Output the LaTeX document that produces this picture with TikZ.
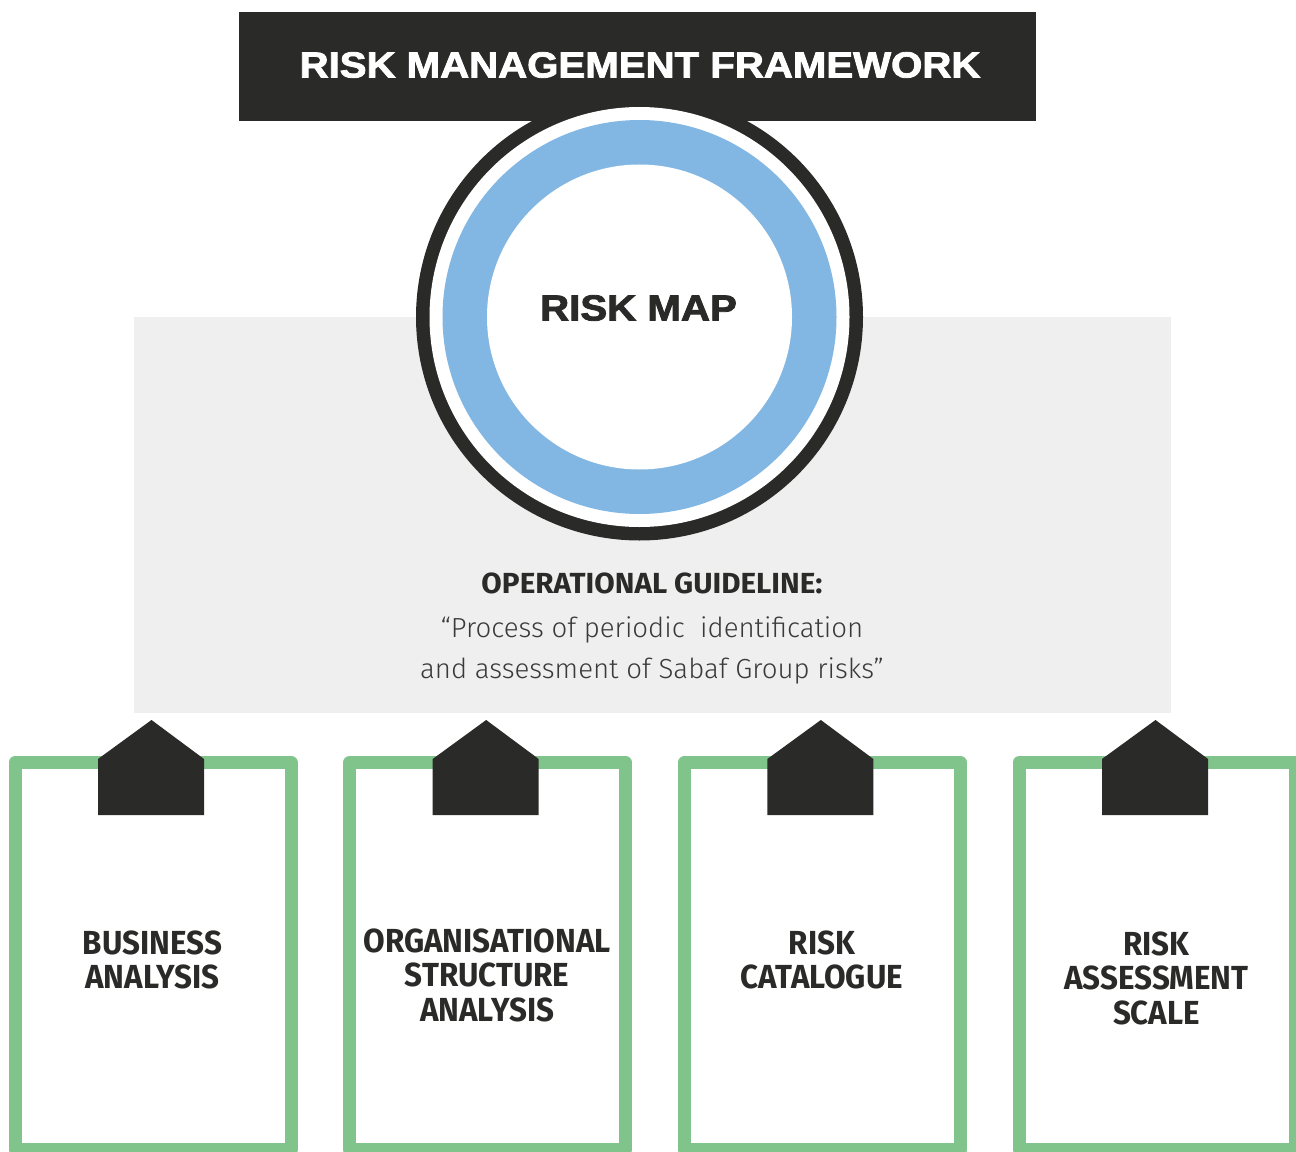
\documentclass[tikz,border=0pt]{standalone}
\usepackage{fontspec}
\usepackage{graphicx}
\setmainfont{Fira Sans}
\newfontfamily\firalight{Fira Sans Light}
\newfontfamily\headfont{Liberation Sans}[BoldFeatures={FakeBold=2.2}]
\definecolor{ink}{HTML}{2A2A28}
\definecolor{cardgreen}{HTML}{80C48C}
\definecolor{ringblue}{HTML}{83B7E3}
\definecolor{panelgray}{HTML}{EFEFEF}
\definecolor{bodytext}{HTML}{3A3A3A}
\newcommand{\sq}[1]{\scalebox{0.94}[1]{#1}}
\begin{document}
\begin{tikzpicture}[x=0.75pt,y=-0.75pt,
  cardbox/.style={draw=cardgreen, line width=9.75pt, line join=round, fill=white},
  clipshape/.style={fill=ink},
  cardlabel/.style={text=ink, inner sep=0pt, align=center,
    font=\fontsize{25}{25.9}\selectfont\bfseries},
  headtext/.style={inner sep=0pt, font=\headfont\fontsize{27.2}{30}\selectfont\bfseries}]
\useasboundingbox (0,0) rectangle (1296,1152);
\fill[white] (0,0) rectangle (1296,1152);
% gray panel
\fill[panelgray] (134,317) rectangle (1171,713);
% title bar
\fill[ink] (239,12) rectangle (1036,121);
\node[headtext, text=white] (title) at (640,65) {\scalebox{1.108}[1]{RISK MANAGEMENT FRAMEWORK}};
% risk map rings
\coordinate (c) at (639.5,317);
\fill[ink] (c) circle[radius=223.5];
\fill[white] (c) circle[radius=210];
\fill[ringblue] (c) circle[radius=197];
\fill[white] (c) circle[radius=152.5];
\node[headtext, text=ink] (riskmap) at (638.5,308) {\scalebox{1.11}[1]{RISK MAP}};
% guideline
\node[inner sep=0pt, anchor=base, text=ink, font=\fontsize{21.8}{24}\selectfont\bfseries] (guidehead) at (652,593) {\scalebox{1.02}[1]{OPERATIONAL GUIDELINE:}};
\node[inner sep=0pt, anchor=base, text=bodytext, font=\firalight\fontsize{20.7}{24}\selectfont] (guide1) at (652,637) {“Process of periodic\ \ identification};
\node[inner sep=0pt, anchor=base, text=bodytext, font=\firalight\fontsize{20.7}{24}\selectfont] (guide2) at (652,678) {and assessment of Sabaf Group risks”};
% clipboards
\foreach \k/\lab/\ty in {0/{\sq{BUSINESS}\\\sq{ANALYSIS}}/960, 1/{\sq{ORGANISATIONAL}\\\sq{STRUCTURE}\\\sq{ANALYSIS}}/975, 2/{\sq{RISK}\\\sq{CATALOGUE}}/960, 3/{\sq{RISK}\\\sq{ASSESSMENT}\\\sq{SCALE}}/978}{
  \pgfmathsetmacro{\L}{8+334.67*\k}
  \draw[cardbox] (\L+7,762.5) rectangle (\L+283,1149.5);
  \fill[clipshape] (\L+90,815) -- (\L+90,759) -- (\L+143.5,720) -- (\L+196,759) -- (\L+196,815) -- cycle;
  \node[cardlabel] (card\k) at (\L+144.5,\ty) {\lab};
}
\end{tikzpicture}
\end{document}
